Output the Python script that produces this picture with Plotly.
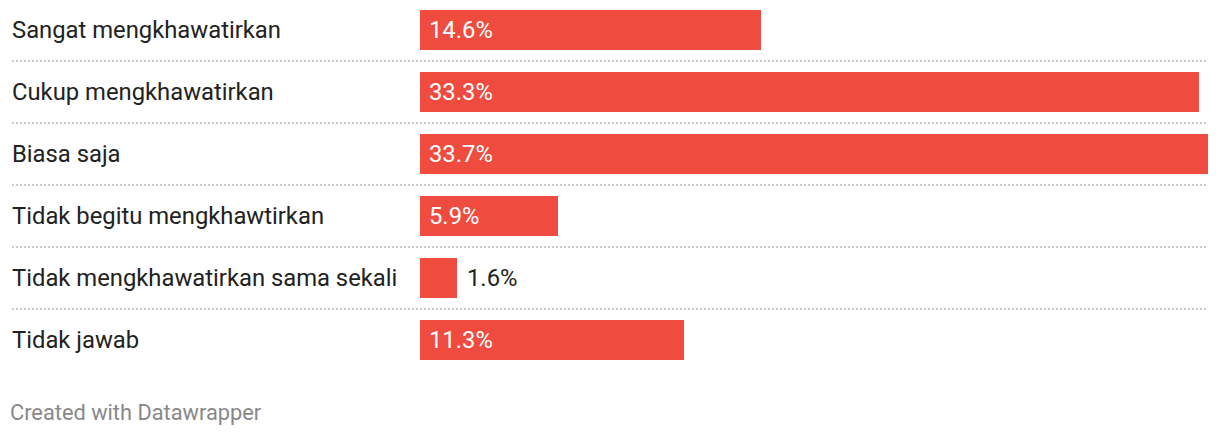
import plotly.graph_objects as go

categories = [
    "Sangat mengkhawatirkan",
    "Cukup mengkhawatirkan",
    "Biasa saja",
    "Tidak begitu mengkhawtirkan",
    "Tidak mengkhawatirkan sama sekali",
    "Tidak jawab",
]
values = [14.6, 33.3, 33.7, 5.9, 1.6, 11.3]
footer_text = "Created with Datawrapper"

OFF = 8  # page body margin
W, H = 1220 - OFF, 436 - OFF
PLOT_L, PLOT_R = 420 - OFF, 1208 - OFF
LABEL_X = 10 - OFF
SEP_X = 12 - OFF
FOOT_X, FOOT_Y = 8 - OFF, 412 - OFF
BAR_COLOR = "#ef4b3f"
TEXT_COLOR = "#222222"
FONT = "Roboto"

n = len(categories)
pitch = 62.0
first_center = 30.0 - OFF
top_px, bot_px = 10.0 - OFF, 360.0 - OFF
y_top = (top_px - first_center) / pitch
y_bot = (bot_px - first_center) / pitch
xmax = max(values)

fig = go.Figure()
fig.add_trace(go.Bar(
    x=values,
    y=list(range(n)),
    orientation="h",
    width=40.0 / pitch,
    marker=dict(color=BAR_COLOR, line=dict(width=0)),
    hoverinfo="skip",
))

span = PLOT_R - PLOT_L
label_x_paper = (LABEL_X - PLOT_L) / span
sep_x_paper = (SEP_X - PLOT_L) / span
annotations = []
shapes = []
for i, (cat, v) in enumerate(zip(categories, values)):
    annotations.append(dict(
        x=label_x_paper, xref="paper", y=i, yref="y",
        text=cat, showarrow=False, xanchor="left", yanchor="middle",
        font=dict(family=FONT, size=23.8, color=TEXT_COLOR),
    ))
    inside = v >= 3
    annotations.append(dict(
        x=0 if inside else v, xref="x", y=i, yref="y",
        text=f"{v:.1f}%", showarrow=False, xanchor="left", yanchor="middle",
        xshift=7 if inside else 8,
        font=dict(family=FONT, size=23.8, color="#ffffff" if inside else TEXT_COLOR),
    ))
    if i < n - 1:
        shapes.append(dict(
            type="line", xref="paper", yref="y",
            x0=sep_x_paper, x1=1, y0=i + 0.5, y1=i + 0.5,
            line=dict(color="#cccccc", width=2, dash="2px,2px"),
            layer="below",
        ))

annotations.append(dict(
    x=(FOOT_X - PLOT_L) / span, xref="paper",
    y=0, yref="paper", yshift=-(FOOT_Y - bot_px),
    text=footer_text, showarrow=False,
    xanchor="left", yanchor="middle",
    font=dict(family=FONT, size=21.8, color="#888888"),
))

fig.update_layout(
    width=W, height=H,
    margin=dict(l=PLOT_L, r=W - PLOT_R, t=top_px, b=H - bot_px, pad=0),
    paper_bgcolor="white", plot_bgcolor="white",
    showlegend=False,
    xaxis=dict(range=[0, xmax], visible=False, fixedrange=True),
    yaxis=dict(range=[y_bot, y_top], visible=False, fixedrange=True),
    annotations=annotations,
    shapes=shapes,
    bargap=0,
)

fig.write_html("out.html")
